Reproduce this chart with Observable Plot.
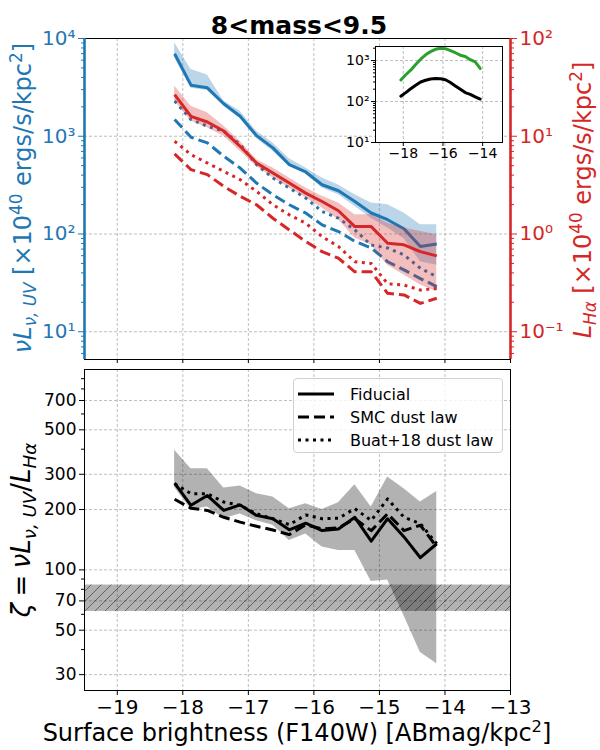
<!DOCTYPE html>
<html><head><meta charset="utf-8">
<script src="https://cdn.jsdelivr.net/npm/d3@7"></script>
<script src="https://cdn.jsdelivr.net/npm/@observablehq/plot@0.6"></script>
<style>
body{margin:0;background:#fff;font-family:"DejaVu Sans",sans-serif;}
#wrap{position:relative;width:600px;height:750px;overflow:hidden;}
.rot{position:absolute;white-space:nowrap;transform:translate(-50%,-50%) rotate(-90deg);}
.rot sub,.rot sup{font-size:70%;}
i{font-style:italic;}
</style></head><body><div id="wrap"></div>
<script>
// ---------- data ----------
const sbBins = [-18.125,-17.875,-17.625,-17.375,-17.125,-16.875,-16.625,-16.375,-16.125,-15.875,-15.625,-15.375,-15.125,-14.875,-14.625,-14.375,-14.125];
// UV surface luminosity [1e40 erg/s/kpc^2]
const uvFid   = [6980,3330,3130,2150,1600,1015,760,512,431,319,277,215,164,140,113,74.5,79];
const uvFidLo = [6350,3090,2940,2030,1520,946,701,492,410,295,252,191,145,115,90,52,48];
const uvFidHi = [9060,4830,4230,2290,1800,1125,855,590,473,373,318,252,207,199,164,124,124];
const uvSMC   = [1483,977,855,624,473,332,252,199,164,124,106,84,72,52,43,35,29];
const uvBuat  = [2290,1483,1267,1126,822,512,374,295,233,170,145,110,77,72,61,44.6,36.6];
// Halpha surface luminosity [1e40 erg/s/kpc^2]
const haFid   = [26.7,16.0,14.0,11.3,7.89,5.32,4.20,3.32,2.62,2.15,1.73,1.19,1.19,0.805,0.775,0.66,0.597];
const haFidLo = [22.9,14.3,12.2,10.0,7.01,4.92,3.74,2.95,2.33,1.84,1.40,0.91,0.77,0.48,0.38,0.30,0.257];
const haFidHi = [32.6,20.3,17.4,12.7,8.89,5.76,4.73,3.74,2.95,2.43,2.07,1.57,1.57,1.29,1.15,1.06,0.98];
const haSMC   = [6.59,4.55,4.05,3.07,2.43,1.99,1.45,1.10,0.84,0.66,0.565,0.41,0.41,0.247,0.238,0.195,0.22];
const haBuat  = [8.89,6.49,5.32,4.37,3.60,2.73,1.99,1.57,1.29,0.94,0.745,0.52,0.50,0.31,0.30,0.267,0.278];
// zeta = nuL_UV / L_Ha
const zetaFid  = [271,210,235,198,211,187,180,158.5,171,157,160,183,139,180,146,115,135];
const zetaSMC  = [225,203,198,183,173,165,158,150,168,160,162,180,157,190.5,157,167,130];
const zetaBuat = [269,240,240,218,210,190.5,180,168,188,180,181,202,176.5,226,183,170,135];
const zetaLo   = [258,200,206,180,190,176,167,140,151,130,125,125,87.4,89,59,38.7,34];
const zetaHi   = [395,320,320,256,262,240,231,202,214,200,216,266,206,291,254,218,246];
const zetaBand = [62, 84];
// inset
const insetGreen = [335,450,580,800,1080,1380,1650,1880,2000,1950,1750,1550,1350,1250,1050,930,640];
const insetBlack = [135,165,205,250,300,330,355,365,360,340,290,240,200,165,150,130,115];
// ticks
const xTicks = [-19,-18,-17,-16,-15,-14,-13];
const uvTicks = [10,100,1000,10000];
const zetaTicks = [30,50,70,100,200,300,500,700];
const zetaMinor = [40,60,80,90,400,600,800,900];
const insetXTicks = [-18,-16,-14];
const insetYTicks = [10,100,1000];
const haScale = 100; // right axis = left axis / 100

// ---------- helpers ----------
const blue="#1f77b4", red="#d62728", green="#2ca02c";
const SUP={"0":"⁰","1":"¹","2":"²","3":"³","4":"⁴","5":"⁵","-":"⁻"};
const pow10 = d => "10" + String(Math.round(Math.log10(d))).split("").map(c=>SUP[c]).join("");
const minus = d => (d<0?"−":"") + Math.abs(d);
const minorLog = (lo,hi) => { const t=[]; for(let e=-2;e<6;e++) for(let m=2;m<10;m++){const v=m*10**e; if(v>=lo&&v<=hi) t.push(v);} return t; };
const grid = {stroke:"#999", strokeOpacity:0.8, strokeWidth:0.8, strokeDasharray:"3,2"};
const DASH="11,5", DOT="3,4.5";
const ln = (y, stroke, dash) => ({x:"x", y, stroke, strokeWidth:3, strokeDasharray:dash, strokeLinejoin:"round", strokeLinecap:"butt"});

const rows = sbBins.map((x,i)=>({x,
  uvFid:uvFid[i], uvLo:uvFidLo[i], uvHi:uvFidHi[i], uvSMC:uvSMC[i], uvBuat:uvBuat[i],
  haFid:haFid[i]*haScale, haLo:haFidLo[i]*haScale, haHi:haFidHi[i]*haScale, haSMC:haSMC[i]*haScale, haBuat:haBuat[i]*haScale,
  zFid:zetaFid[i], zSMC:zetaSMC[i], zBuat:zetaBuat[i], zLo:zetaLo[i], zHi:zetaHi[i],
  g:insetGreen[i], k:insetBlack[i]}));

const wrap = document.getElementById("wrap");
const place = (el,left,top) => { el.style.position="absolute"; el.style.left=left+"px"; el.style.top=top+"px"; wrap.appendChild(el); return el; };

// ---------- top panel ----------
const topPlot = Plot.plot({
  width:600, height:366, marginLeft:84, marginRight:90, marginTop:38, marginBottom:7,
  style:{fontFamily:"DejaVu Sans", background:"transparent", overflow:"visible"},
  x:{domain:[-19.5,-13]},
  y:{type:"log", domain:[5.2,1e4]},
  marks:[
    Plot.gridX(xTicks.slice(0,6), grid),
    Plot.gridY([10,100,1000], grid),
    Plot.areaY(rows,{x:"x", y1:"uvLo", y2:"uvHi", fill:blue, fillOpacity:0.3}),
    Plot.line(rows, ln("uvFid", blue)),
    Plot.line(rows, ln("uvSMC", blue, DASH)),
    Plot.line(rows, ln("uvBuat", blue, DOT)),
    Plot.areaY(rows,{x:"x", y1:"haLo", y2:"haHi", fill:red, fillOpacity:0.3}),
    Plot.line(rows, ln("haFid", red)),
    Plot.line(rows, ln("haSMC", red, DASH)),
    Plot.line(rows, ln("haBuat", red, DOT)),
    Plot.axisX({ticks:xTicks, tickFormat:()=>"", tickSize:4, label:null}),
    Plot.axisY({ticks:uvTicks, tickFormat:pow10, color:blue, tickSize:6, tickPadding:3, fontSize:20, label:null}),
    Plot.axisY({ticks:minorLog(5.2,1e4), tickFormat:()=>"", color:blue, tickSize:3, label:null}),
    Plot.axisY({anchor:"right", ticks:uvTicks, tickFormat:d=>pow10(d/haScale), color:red, tickSize:6, tickPadding:3, fontSize:20, label:null}),
    Plot.axisY({anchor:"right", ticks:minorLog(5.2,1e4), tickFormat:()=>"", color:red, tickSize:3, label:null}),
    Plot.frame({stroke:"black", strokeWidth:1}),
    Plot.ruleX([-19.5],{stroke:blue, strokeWidth:2.6}),
    Plot.ruleX([-13],{stroke:red, strokeWidth:2.6})
  ]
});
place(topPlot,0,0);

// ---------- inset ----------
const inset = Plot.plot({
  width:180, height:140, marginLeft:45, marginRight:8, marginTop:6, marginBottom:38,
  style:{fontFamily:"DejaVu Sans", background:"transparent", overflow:"visible"},
  x:{domain:[-19.4,-13]},
  y:{type:"log", domain:[10,2200]},
  marks:[
    Plot.frame({fill:"white", stroke:"none"}),
    Plot.gridX(insetXTicks, grid),
    Plot.gridY([100,1000], grid),
    Plot.line(rows, {x:"x", y:"g", stroke:green, strokeWidth:3, strokeLinejoin:"round"}),
    Plot.line(rows, {x:"x", y:"k", stroke:"black", strokeWidth:3, strokeLinejoin:"round"}),
    Plot.axisX({ticks:insetXTicks, tickFormat:minus, tickSize:4, tickPadding:2, fontSize:14, label:null}),
    Plot.axisY({ticks:insetYTicks, tickFormat:pow10, tickSize:4, tickPadding:2, fontSize:14, label:null}),
    Plot.axisY({ticks:minorLog(10,2200), tickFormat:()=>"", tickSize:2, label:null}),
    Plot.frame({stroke:"black", strokeWidth:1})
  ]
});
place(inset,330,40);

// ---------- bottom panel ----------
const botPlot = Plot.plot({
  width:600, height:384, marginLeft:84, marginRight:90, marginTop:3, marginBottom:60,
  style:{fontFamily:"DejaVu Sans", background:"transparent", overflow:"visible"},
  x:{domain:[-19.5,-13]},
  y:{type:"log", domain:[25,1000]},
  marks:[
    Plot.gridX(xTicks.slice(0,6), grid),
    Plot.gridY(zetaTicks, grid),
    Plot.rect([zetaBand],{x1:()=>-19.5, x2:()=>-13, y1:d=>d[0], y2:d=>d[1], fill:"black", fillOpacity:0.3}),
    Plot.rect([zetaBand],{x1:()=>-19.5, x2:()=>-13, y1:d=>d[0], y2:d=>d[1], fill:"url(#hatch)"}),
    Plot.areaY(rows,{x:"x", y1:"zLo", y2:"zHi", fill:"black", fillOpacity:0.3}),
    Plot.line(rows, ln("zFid","black")),
    Plot.line(rows, ln("zSMC","black",DASH)),
    Plot.line(rows, ln("zBuat","black",DOT)),
    Plot.axisX({ticks:xTicks, tickFormat:minus, tickSize:5, tickPadding:4, fontSize:20, label:null}),
    Plot.axisY({ticks:zetaTicks, tickFormat:()=>"", tickSize:5, label:null}),
    Plot.text(zetaTicks, {y:d=>d, text:d=>String(d), frameAnchor:"left", textAnchor:"end", dx:-8, fontSize:17}),
    Plot.axisY({ticks:zetaMinor, tickFormat:()=>"", tickSize:3, label:null}),
    Plot.frame({stroke:"black", strokeWidth:1})
  ]
});
const ns="http://www.w3.org/2000/svg";
const defs=document.createElementNS(ns,"defs");
defs.innerHTML='<pattern id="hatch" patternUnits="userSpaceOnUse" width="10" height="10"><path d="M-2,12 L12,-2 M-2,2 L2,-2 M8,12 L12,8" stroke="black" stroke-opacity="0.45" stroke-width="1"/></pattern>';
botPlot.insertBefore(defs, botPlot.firstChild);
place(botPlot,0,366);

// ---------- legend ----------
const leg=document.createElement("div");
leg.style.cssText="width:208px;height:73px;border:1px solid #d0d0d0;border-radius:4px;background:rgba(255,255,255,0.8);font-size:16px;";
const items=[["Fiducial",null],["SMC dust law",DASH],["Buat+18 dust law",DOT]];
leg.innerHTML = items.map(([t,d],i)=>`<div style="position:absolute;left:4px;top:${4+i*23}px;height:22px;display:flex;align-items:center;white-space:nowrap;"><svg width="44" height="10" style="margin-right:8px"><line x1="0" x2="36" y1="5" y2="5" stroke="black" stroke-width="3" ${d?`stroke-dasharray="${d}"`:""}/></svg>${t}</div>`).join("");
place(leg,293,378);

// ---------- texts ----------
const title=document.createElement("div");
title.textContent="8<mass<9.5";
title.style.cssText="font-weight:bold;font-size:25px;transform:translateX(-50%);white-space:nowrap;line-height:1;";
place(title,299,13);

const yl=document.createElement("div"); yl.className="rot";
yl.style.cssText+="color:"+blue+";font-size:24px;";
yl.innerHTML='<i>νL</i><sub><i>ν, UV</i></sub> [×10<sup>40</sup> ergs/s/kpc<sup>2</sup>]';
place(yl,23,198);

const yr=document.createElement("div"); yr.className="rot";
yr.style.cssText+="color:"+red+";font-size:24px;";
yr.innerHTML='<i>L</i><sub><i>Hα</i></sub> [×10<sup>40</sup> ergs/s/kpc<sup>2</sup>]';
place(yr,583,200);

const yz=document.createElement("div"); yz.className="rot";
yz.style.cssText+="color:black;font-size:26px;";
yz.innerHTML='<i>ζ</i>&#8197;=&#8197;<i>νL</i><sub><i>ν, UV</i></sub>/<i>L</i><sub><i>Hα</i></sub>';
place(yz,23,530);

const xl=document.createElement("div");
xl.style.cssText="font-size:24px;transform:translateX(-50%);white-space:nowrap;";
xl.innerHTML='Surface brightness (F140W) [ABmag/kpc<sup style="font-size:68%">2</sup>]';
place(xl,297,717);
</script></body></html>
